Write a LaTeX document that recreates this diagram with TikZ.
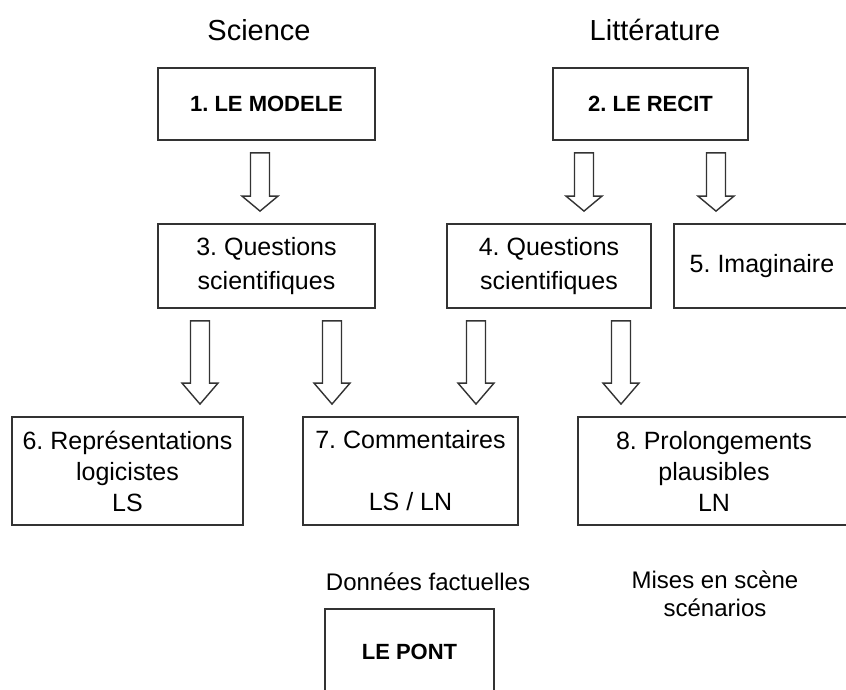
\documentclass[tikz,border=0pt]{standalone}
\usepackage{fontspec}
\setmainfont{Liberation Sans}
\usepackage{tikz}
\usetikzlibrary{calc}
\frenchspacing

\tikzstyle{bigbox} = [rectangle, draw=black!80, line width=1.8pt, text centered, font=\bfseries\fontsize{22}{26}\selectfont, minimum height=72pt, inner sep=0pt]
\tikzstyle{qbox} = [rectangle, draw=black!80, line width=1.8pt, align=center, font=\fontsize{25}{34}\selectfont, minimum height=84pt, inner sep=0pt]
\tikzstyle{resbox} = [rectangle, draw=black!80, line width=1.8pt, align=center, font=\fontsize{25}{31}\selectfont, minimum height=108pt, inner sep=0pt]
\tikzstyle{headtext} = [font=\fontsize{29}{34}\selectfont]
\tikzstyle{notetext} = [align=center, font=\fontsize{24}{28}\selectfont]
\tikzstyle{hollow} = [draw=black!80, line width=1.4pt, fill=white, line join=miter]

% #1 from, #2 to, #3 x, #4 head length
\newcommand{\blockarr}[4]{%
  \draw[hollow] let \p1=(#1.south), \p2=(#2.north) in
    ({#3pt-9.5pt},{\y1-12pt}) -- ({#3pt+9.5pt},{\y1-12pt})
    -- ({#3pt+9.5pt},{\y2+12pt+#4pt}) -- ({#3pt+18pt},{\y2+12pt+#4pt})
    -- ({#3pt},{\y2+12pt}) -- ({#3pt-18pt},{\y2+12pt+#4pt})
    -- ({#3pt-9.5pt},{\y2+12pt+#4pt}) -- cycle;}

\begin{document}
\begin{tikzpicture}[x=1pt, y=-1pt, node distance=162pt]
\useasboundingbox (0,0) rectangle (846,689);
\clip (0,0) rectangle (846,689);

\node (sci) [headtext] at (259,30) {Science};
\node (lit) [headtext] at (655,30) {Littérature};

\node (modele) [bigbox, minimum width=217pt] at (266.5,104) {1. LE MODELE};
\node (recit) [bigbox, minimum width=195pt, right of=modele, xshift=222pt] {2. LE RECIT};

\node (q3) [qbox, minimum width=217pt, below of=modele] {3. Questions\\scientifiques};
\node (q4) [qbox, minimum width=204pt, below of=recit, xshift=-101.5pt] {4. Questions\\scientifiques};
\node (imag) [qbox, minimum width=176pt, below of=recit, xshift=111.5pt] {5. Imaginaire};

\node (rep) [resbox, minimum width=231pt, below of=q3, xshift=-139pt, yshift=-43pt] {6. Représentations\\logicistes\\LS};
\node (comm) [resbox, minimum width=215pt, below of=q3, xshift=144pt, yshift=-43pt] {7. Commentaires\\ \mbox{}\\LS / LN};
\node (prol) [resbox, minimum width=272pt, below of=q4, xshift=165pt, yshift=-43pt] {8. Prolongements\\plausibles\\LN};

\node (don) [notetext] at (428,582) {Données factuelles};
\node (mises) [notetext] at (715,594) {Mises en scène\\scénarios};
\node (pont) [bigbox, minimum width=169pt, minimum height=86pt, below of=comm, xshift=-1pt, yshift=-19pt] {LE PONT};

\blockarr{modele}{q3}{260}{15}
\blockarr{recit}{q4}{584}{15}
\blockarr{recit}{imag}{716}{15}
\blockarr{q3}{rep}{200}{21}
\blockarr{q3}{comm}{332}{21}
\blockarr{q4}{comm}{476}{21}
\blockarr{q4}{prol}{621}{21}

\end{tikzpicture}
\end{document}
